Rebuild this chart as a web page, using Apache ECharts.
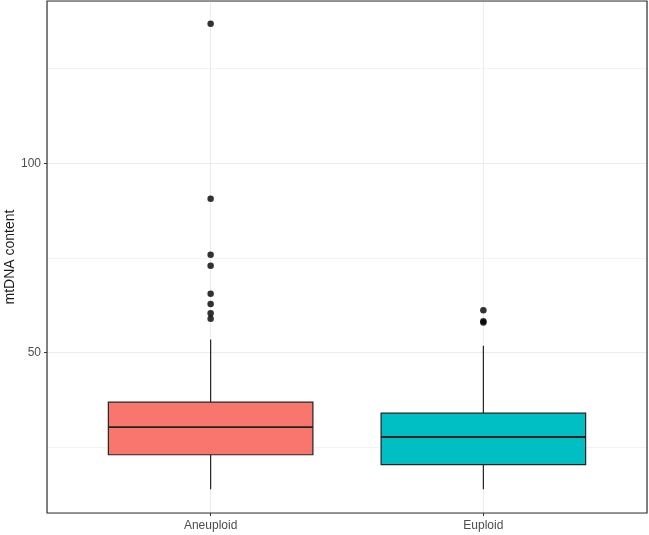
<!DOCTYPE html>
<html>
<head>
<meta charset="utf-8">
<title>mtDNA content</title>
<script src="https://cdn.jsdelivr.net/npm/echarts@6/dist/echarts.min.js"></script>
<style>
  html, body { margin: 0; padding: 0; background: #fff; }
  #main { width: 649px; height: 535px; }
</style>
</head>
<body>
<div id="main"></div>
<script>
// groups, in x order (x = 1, 2)
var groups = ['Aneuploid', 'Euploid'];
// five-number summaries: [min, Q1, median, Q3, max]
var boxStats = [
  [13.8, 22.9, 30.2, 36.8, 53.4],
  [13.8, 20.3, 27.6, 33.9, 51.7]
];
// outlying points per group
var aneuploidOutliers = [136.9, 90.6, 75.8, 72.9, 65.5, 62.8, 60.3, 58.9];
var euploidOutliers = [61.1, 58.2, 57.9];
// labelled y ticks
var yTickLabels = [50, 100];

var fills = ['#F8766D', '#00BFC4'];

var boxData = boxStats.map(function (s, i) {
  return [i + 1].concat(s);
});
var outlierData = [];
aneuploidOutliers.forEach(function (v) { outlierData.push([1, v]); });
euploidOutliers.forEach(function (v) { outlierData.push([2, v]); });

function renderBox(params, api) {
  var x = api.value(0);
  var lo = api.coord([x, api.value(1)]);
  var q1 = api.coord([x, api.value(2)]);
  var med = api.coord([x, api.value(3)]);
  var q3 = api.coord([x, api.value(4)]);
  var hi = api.coord([x, api.value(5)]);
  var half = api.size([0.75, 0])[0] / 2;
  var line = { stroke: '#222222', lineWidth: 1.2 };
  return {
    type: 'group',
    children: [
      { type: 'line', shape: { x1: lo[0], y1: lo[1], x2: q1[0], y2: q1[1] }, style: line },
      { type: 'line', shape: { x1: q3[0], y1: q3[1], x2: hi[0], y2: hi[1] }, style: line },
      { type: 'rect',
        shape: { x: q3[0] - half, y: q3[1], width: half * 2, height: q1[1] - q3[1] },
        style: { fill: fills[params.dataIndex], stroke: '#222222', lineWidth: 1.2 } },
      { type: 'line', shape: { x1: med[0] - half, y1: med[1], x2: med[0] + half, y2: med[1] },
        style: { stroke: '#222222', lineWidth: 1.8 } }
    ]
  };
}

var myChart = echarts.init(document.getElementById('main'), null, { renderer: 'canvas' });

myChart.setOption({
  animation: false,
  backgroundColor: '#ffffff',
  grid: {
    left: 47, right: 2, top: 1, bottom: 22,
    outerBoundsMode: 'none',
    containLabel: false,
    show: true, borderColor: '#333333', borderWidth: 1.2, z: 10
  },
  xAxis: {
    type: 'value',
    min: 0.4,
    max: 2.6,
    minInterval: 1,
    maxInterval: 1,
    axisLine: { show: false },
    axisTick: { show: true, length: 3, lineStyle: { color: '#333333' } },
    axisLabel: {
      show: true,
      showMinLabel: false,
      showMaxLabel: false,
      margin: 7,
      color: '#4d4d4d',
      fontSize: 12,
      fontFamily: 'Liberation Sans, Arial, sans-serif',
      formatter: function (v) {
        for (var k = 0; k < groups.length; k++) {
          if (Math.abs(v - (k + 1)) < 1e-6) return groups[k];
        }
        return '';
      }
    },
    splitLine: { show: true, lineStyle: { color: '#ebebeb', width: 1 } }
  },
  yAxis: {
    type: 'value',
    min: 7.5,
    max: 142.9,
    minInterval: 50,
    maxInterval: 50,
    name: 'mtDNA content',
    nameLocation: 'middle',
    nameGap: 30,
    nameMoveOverlap: false,
    nameTextStyle: { color: '#1a1a1a', fontSize: 14, fontFamily: 'Liberation Sans, Arial, sans-serif' },
    axisLine: { show: false },
    axisTick: { show: true, length: 3, lineStyle: { color: '#333333' } },
    axisLabel: {
      show: true,
      showMinLabel: false,
      showMaxLabel: false,
      margin: 6,
      color: '#4d4d4d',
      fontSize: 12,
      fontFamily: 'Liberation Sans, Arial, sans-serif',
      formatter: function (v) {
        return yTickLabels.indexOf(Math.round(v * 10) / 10) >= 0 ? String(v) : '';
      }
    },
    splitLine: { show: true, lineStyle: { color: '#ebebeb', width: 1 } },
    minorTick: { show: false, splitNumber: 2 },
    minorSplitLine: { show: true, lineStyle: { color: '#ebebeb', width: 0.6 } }
  },
  series: [
    {
      type: 'custom',
      renderItem: renderBox,
      encode: { x: 0, y: [1, 2, 3, 4, 5] },
      data: boxData,
      z: 2
    },
    {
      type: 'scatter',
      data: outlierData,
      symbolSize: 6.5,
      itemStyle: { color: '#000000' },
      z: 3
    }
  ]
});
</script>
</body>
</html>
